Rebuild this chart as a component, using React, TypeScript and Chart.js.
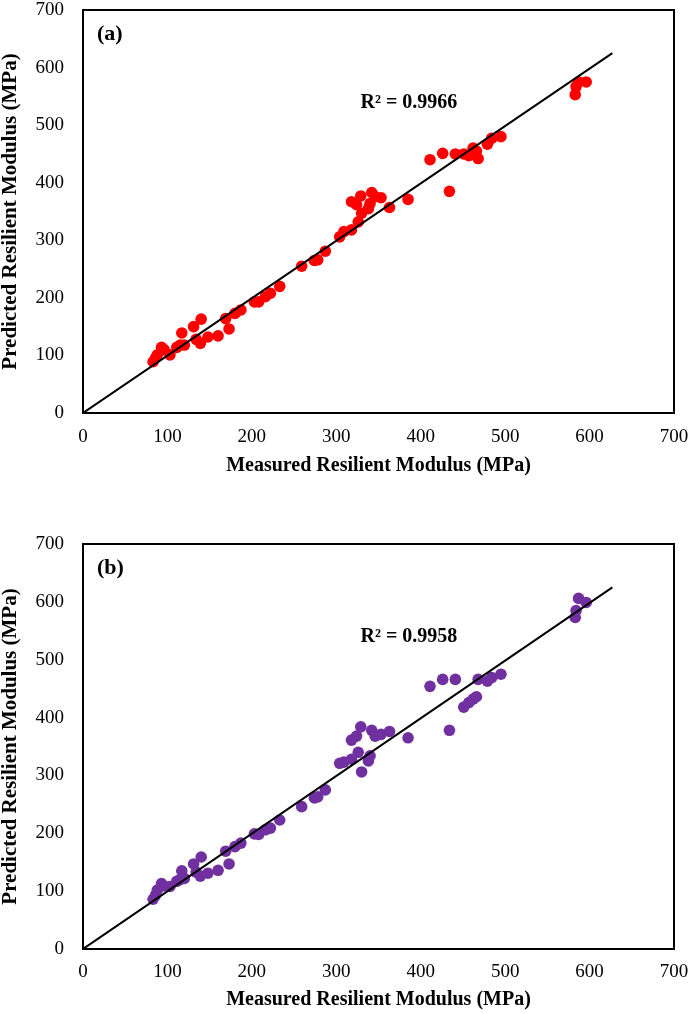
import React, { useEffect, useRef } from "react";
import { Chart, registerables } from "chart.js";

Chart.register(...registerables);

// Measured resilient modulus (MPa) – shared by both panels
const measured = [
  83, 86, 88, 93, 96, 103, 111, 115, 117, 120,
  131, 134, 139, 140, 148, 160, 169, 173, 180, 187,
  203, 208, 216, 222, 233, 259, 274, 278, 287, 304,
  309, 318, 318, 324, 326, 330, 329, 338, 342, 340,
  346, 353, 363, 385, 411, 426, 434, 441, 451, 457,
  462, 466, 468, 479, 484, 495, 583, 584, 587, 596,
];

// Predicted resilient modulus (MPa) – panel (a)
const predictedA = [
  89, 96, 101, 114, 110, 101, 114, 118, 139, 118,
  150, 128, 121, 163, 132, 134, 164, 146, 173, 179,
  193, 193, 202, 208, 220, 255, 265, 266, 281, 306,
  315, 318, 367, 362, 332, 347, 377, 355, 383, 364,
  376, 374, 357, 371, 440, 451, 385, 450, 450, 447,
  460, 455, 442, 467, 477, 480, 553, 567, 575, 575,
];

// Predicted resilient modulus (MPa) – panel (b)
const predictedB = [
  86, 93, 102, 113, 109, 108, 117, 120, 135, 122,
  147, 133, 126, 159, 131, 136, 169, 147, 177, 183,
  199, 198, 206, 209, 223, 246, 261, 263, 275, 321,
  323, 328, 361, 368, 340, 306, 384, 325, 378, 334,
  368, 371, 376, 365, 454, 466, 378, 466, 418, 426,
  432, 436, 466, 463, 469, 475, 573, 585, 606, 599,
];

// Linear trend line end points
const trendX = [0, 627];
const trendY = [0, 625];

const axisTicks = [0, 100, 200, 300, 400, 500, 600, 700];

const xTitle = "Measured Resilient Modulus (MPa)";
const yTitle = "Predicted Resilient Modulus (MPa)";

const panelTags = ["(a)", "(b)"];
const r2Labels = ["R² = 0.9966", "R² = 0.9958"];
const r2X = 386;
const r2Y = [538, 540];

const SERIF = '"Liberation Serif", "Times New Roman", serif';
const CANVAS_W = 689;
const CANVAS_H = 480;

type PanelProps = {
  top: number;
  plotBottom: number;
  tickPad: number;
  ys: number[];
  color: string;
  tag: string;
  r2: string;
  r2y: number;
};

function Panel({ top, plotBottom, tickPad, ys, color, tag, r2, r2y }: PanelProps) {
  const ref = useRef<HTMLCanvasElement | null>(null);

  useEffect(() => {
    if (!ref.current) return;

    const decorPlugin = {
      id: "decor",
      afterDraw(chart: any) {
        const { ctx, chartArea, scales } = chart;
        ctx.save();
        ctx.strokeStyle = "#000";
        ctx.lineWidth = 2;
        ctx.strokeRect(
          chartArea.left,
          chartArea.top,
          chartArea.right - chartArea.left,
          chartArea.bottom - chartArea.top
        );
        ctx.fillStyle = "#000";
        ctx.font = `bold 22px ${SERIF}`;
        ctx.textAlign = "left";
        ctx.textBaseline = "middle";
        ctx.fillText(tag, chartArea.left + 14, chartArea.top + 24);
        ctx.font = `bold 20px ${SERIF}`;
        ctx.textAlign = "center";
        ctx.fillText(r2, scales.x.getPixelForValue(r2X), scales.y.getPixelForValue(r2y));
        ctx.restore();
      },
    };

    const tickFont = { family: SERIF, size: 19, lineHeight: 1 };
    const xTitleFont = { family: SERIF, size: 20, weight: "bold" as const };
    const yTitleFont = { family: SERIF, size: 21, weight: "bold" as const, lineHeight: 1 };

    const chart = new Chart(ref.current, {
      type: "scatter",
      data: {
        datasets: [
          {
            data: trendX.map((x, i) => ({ x, y: trendY[i] })),
            showLine: true,
            borderColor: "#000",
            borderWidth: 2,
            pointRadius: 0,
            fill: false,
          } as any,
          {
            data: measured.map((x, i) => ({ x, y: ys[i] })),
            backgroundColor: color,
            borderWidth: 0,
            pointRadius: 5.8,
          },
        ],
      },
      options: {
        animation: false,
        responsive: false,
        events: [],
        layout: { padding: { top: 10, right: 15, left: 0, bottom: 0 } },
        plugins: {
          legend: { display: false },
          tooltip: { enabled: false },
        },
        scales: {
          x: {
            type: "linear",
            min: 0,
            max: 700,
            afterBuildTicks: (s: any) => {
              s.ticks = axisTicks.map((v) => ({ value: v }));
            },
            grid: { display: false, drawTicks: false },
            border: { display: false },
            ticks: { font: tickFont, color: "#000", padding: tickPad, maxRotation: 0 },
            title: {
              display: true,
              text: xTitle,
              font: xTitleFont,
              color: "#000",
              padding: { top: 0, bottom: 2 },
            },
            afterFit: (s: any) => {
              s.height = CANVAS_H - plotBottom;
              s.paddingLeft = 0;
              s.paddingRight = 0;
              s.paddingTop = 0;
              s.paddingBottom = 0;
            },
          },
          y: {
            type: "linear",
            min: 0,
            max: 700,
            afterBuildTicks: (s: any) => {
              s.ticks = axisTicks.map((v) => ({ value: v }));
            },
            grid: { display: false, drawTicks: false },
            border: { display: false },
            ticks: { font: tickFont, color: "#000", padding: 19 },
            title: {
              display: true,
              text: yTitle,
              font: yTitleFont,
              color: "#000",
              padding: { top: 0, bottom: 0 },
            },
            afterFit: (s: any) => {
              s.width = 83;
              s.paddingLeft = 0;
              s.paddingRight = 0;
              s.paddingTop = 0;
              s.paddingBottom = 0;
            },
          },
        },
      },
      plugins: [decorPlugin],
    });

    return () => chart.destroy();
  }, []);

  return (
    <canvas
      ref={ref}
      width={CANVAS_W}
      height={CANVAS_H}
      style={{ position: "absolute", left: 0, top, width: CANVAS_W, height: CANVAS_H }}
    />
  );
}

export default function App() {
  return (
    <div
      style={{
        position: "absolute",
        left: 0,
        top: 0,
        width: 689,
        height: 1014,
        background: "#fff",
        overflow: "hidden",
      }}
    >
      <Panel
        top={0}
        plotBottom={413}
        tickPad={15}
        ys={predictedA}
        color="#FF0000"
        tag={panelTags[0]}
        r2={r2Labels[0]}
        r2y={r2Y[0]}
      />
      <Panel
        top={534}
        plotBottom={415}
        tickPad={14}
        ys={predictedB}
        color="#7030A0"
        tag={panelTags[1]}
        r2={r2Labels[1]}
        r2y={r2Y[1]}
      />
    </div>
  );
}
